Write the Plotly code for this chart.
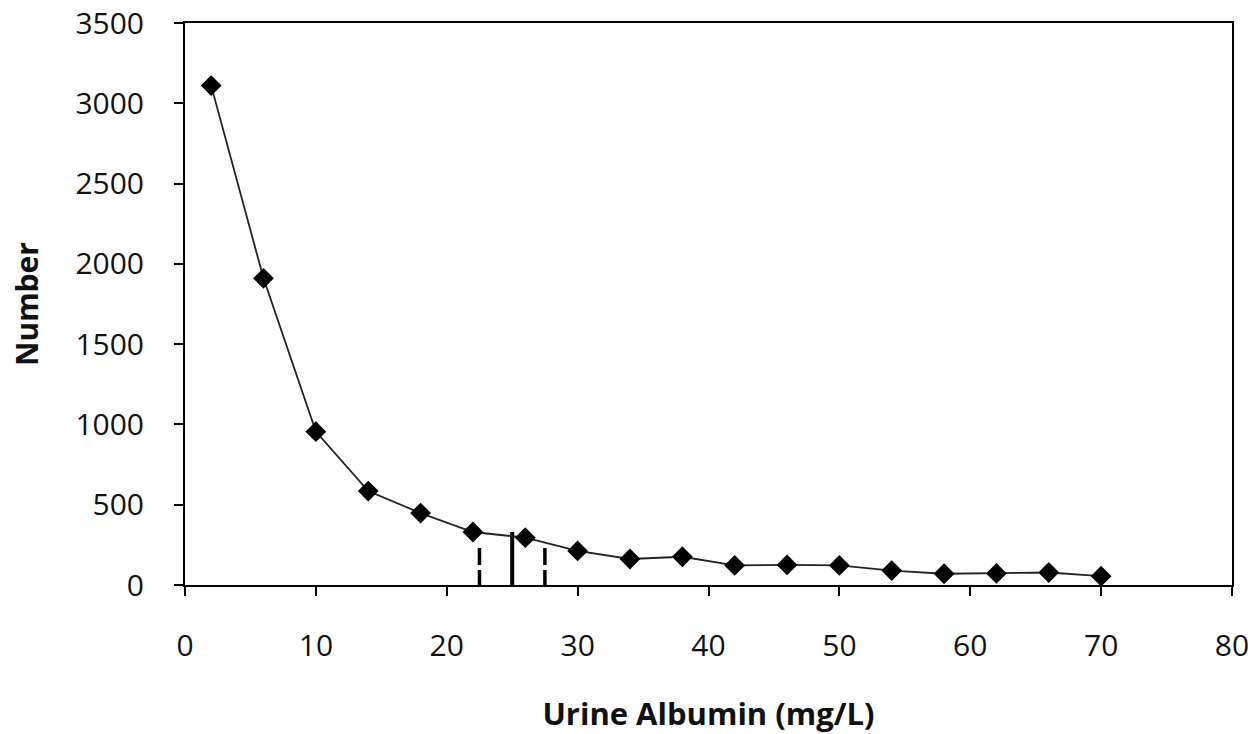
import plotly.graph_objects as go

albumin = [2, 6, 10, 14, 18, 22, 26, 30, 34, 38, 42, 46, 50, 54, 58, 62, 66, 70]
number = [3110, 1910, 955, 585, 448, 330, 295, 212, 162, 176, 122, 125, 122, 90, 70, 72, 78, 55]

ref_x = [22.5, 25, 27.5]
ref_top = [230, 330, 230]
ref_dash = ["17px,5px", "solid", "17px,5px"]
ref_width = [3.5, 4, 3.5]

x_ticks = [0, 10, 20, 30, 40, 50, 60, 70, 80]
y_ticks = [0, 500, 1000, 1500, 2000, 2500, 3000, 3500]

fig = go.Figure()

for xv, top, dash, w in zip(ref_x, ref_top, ref_dash, ref_width):
    fig.add_trace(go.Scatter(
        x=[xv, xv], y=[top, 0], mode="lines",
        line=dict(color="black", width=w, dash=dash),
        showlegend=False, hoverinfo="skip"))

fig.add_trace(go.Scatter(
    x=albumin, y=number, mode="lines+markers",
    line=dict(color="#222222", width=1.8),
    marker=dict(symbol="diamond", size=16, color="black"),
    showlegend=False))

font_family = "Open Sans, DejaVu Sans, sans-serif"

fig.update_layout(
    width=1256, height=734,
    paper_bgcolor="white", plot_bgcolor="white",
    margin=dict(l=185, r=24, t=23, b=149, autoexpand=False),
    font=dict(family=font_family, size=22, color="black"),
    xaxis=dict(
        range=[0, 80], tickvals=x_ticks, ticktext=[str(v) for v in x_ticks],
        showgrid=False, zeroline=False, automargin=False,
        showline=True, linecolor="black", linewidth=2, mirror=True,
        ticks="outside", ticklen=9, tickwidth=2, tickcolor="black",
        ticklabelstandoff=24, ticklabeloverflow="allow",
        tickfont=dict(size=30, family=font_family, color="#111111"),
        title=dict(text="<b>Urine Albumin (mg/L)</b>", standoff=44,
                   font=dict(size=31, family=font_family, color="#111111")),
    ),
    yaxis=dict(
        range=[0, 3500], tickvals=y_ticks, ticktext=[str(v) for v in y_ticks],
        showgrid=False, zeroline=False, automargin=False,
        showline=True, linecolor="black", linewidth=2, mirror=True,
        ticks="outside", ticklen=9, tickwidth=2, tickcolor="black",
        ticklabelstandoff=24, ticklabeloverflow="allow",
        tickfont=dict(size=30, family=font_family, color="#111111"),
        title=dict(text="<b>Number</b>", standoff=28,
                   font=dict(size=30, family=font_family, color="#111111")),
    ),
)

fig.write_html(
    "out.html",
    config={"displayModeBar": False},
    post_script="document.body.style.margin='0';document.body.style.overflow='hidden';",
)
